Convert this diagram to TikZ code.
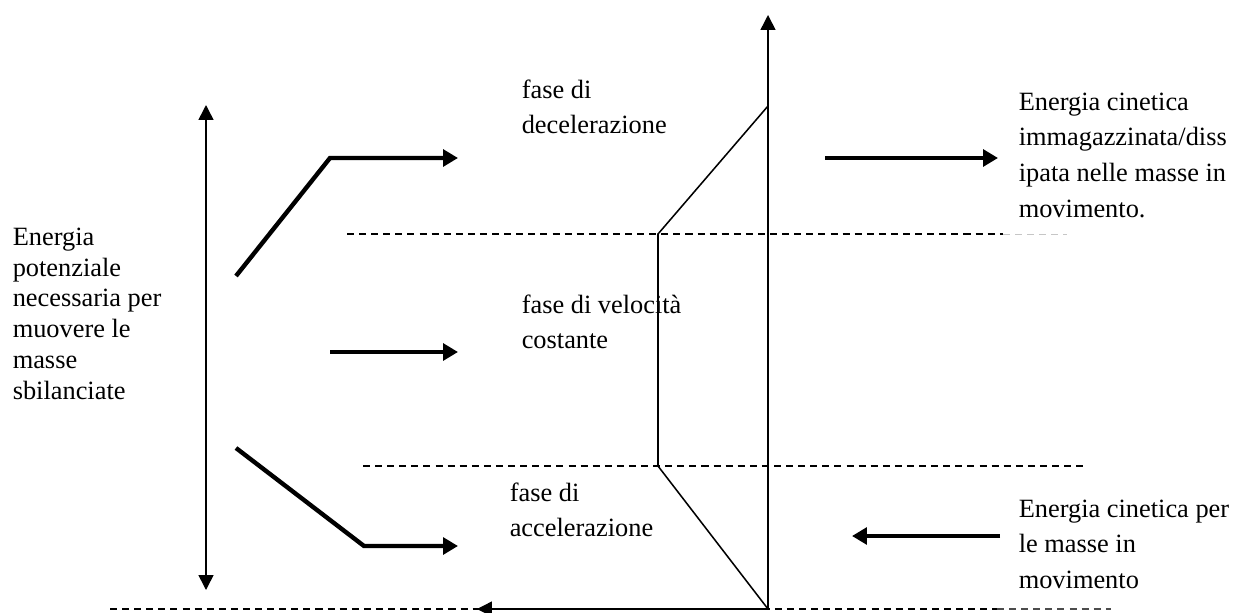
\documentclass[tikz,border=0pt]{standalone}
\usepackage{fontspec}
\setmainfont{Liberation Serif}
\usetikzlibrary{positioning,calc}
\usetikzlibrary{arrows.meta}

\tikzset{
    dashline/.style={dash pattern=on 3.2pt off 2.3pt, line width=.7pt},
    fat/.style={->, line width=2pt, >={Triangle[length=6.8pt, width=7.6pt]}},
    txt/.style={anchor=north west, inner sep=0, align=left, font={\fontsize{12}{16.2}\selectfont}},
}

\begin{document}
\begin{tikzpicture}[x=.455pt, y=-.455pt, >={Triangle[length=6.8pt, width=6.8pt]}, line width=.7pt]

    \useasboundingbox (0, 0) rectangle (1234, 612);

    \def\xaxis{768}
    \def\xcorner{658}
    \def\ytop{106}
    \def\yup{234}
    \def\ylow{466}
    \def\ybot{609}

    % trapezoid on the axis
    \coordinate (p0) at (\xaxis, \ybot);
    \coordinate (top) at (\xaxis, 15);
    \coordinate (a) at (\xaxis, \ytop);
    \coordinate (b) at (\xcorner, \yup);
    \coordinate (c) at (\xcorner, \ylow);
    \coordinate (back) at (477, \ybot);

    \draw [dashline] (347, \yup) -- (1003, \yup);
    \draw [dashline, gray!45, line width=.45pt] (1003, \yup) -- (1067, \yup);
    \draw [dashline] (363, \ylow) -- (1083, \ylow);
    \draw [dashline] (110, \ybot) -- (997, \ybot);
    \draw [dashline, black!70] (997, \ybot) -- (1111, \ybot);

    \draw [->] (p0) -- (top);
    \draw (a) -- (b) -- (c) -- (p0);
    \draw [->] (p0) -- (back);

    % left side
    \coordinate (l1) at (206, 105);
    \coordinate (l2) at (206, 590);
    \draw [<->] (l1) -- (l2);

    \coordinate (u0) at (236, 276);
    \coordinate (u1) at (330, 158);
    \coordinate (u2) at (458, 158);
    \coordinate (m1) at (330, 352);
    \coordinate (m2) at (458, 352);
    \coordinate (d0) at (236, 448);
    \coordinate (d1) at (364, 546);
    \coordinate (d2) at (458, 546);
    \draw [fat] (u0) -- (u1) -- (u2);
    \draw [fat] (m1) -- (m2);
    \draw [fat] (d0) -- (d1) -- (d2);

    % right side
    \coordinate (r1) at (825, 158);
    \coordinate (r2) at (998, 158);
    \coordinate (s1) at (1000, 536);
    \coordinate (s2) at (852, 536);
    \draw [fat] (r1) -- (r2);
    \draw [fat] (s1) -- (s2);

    \node [txt, font={\fontsize{12}{14}\selectfont}] (epot) at (12, 227) {Energia\\potenziale\\necessaria per\\muovere le\\masse\\sbilanciate};
    \node [txt] (dec) at (521, 79) {fase di\\decelerazione};
    \node [txt] (vel) at (521, 294) {fase di velocità\\costante};
    \node [txt] (acc) at (509, 482) {fase di\\accelerazione};
    \node [txt] (ecin) at (1018, 92) {Energia cinetica\\immagazzinata/diss\\ipata nelle masse in\\movimento.};
    \node [txt] (emov) at (1018, 499) {Energia cinetica per\\le masse in\\movimento};

\end{tikzpicture}
\end{document}
